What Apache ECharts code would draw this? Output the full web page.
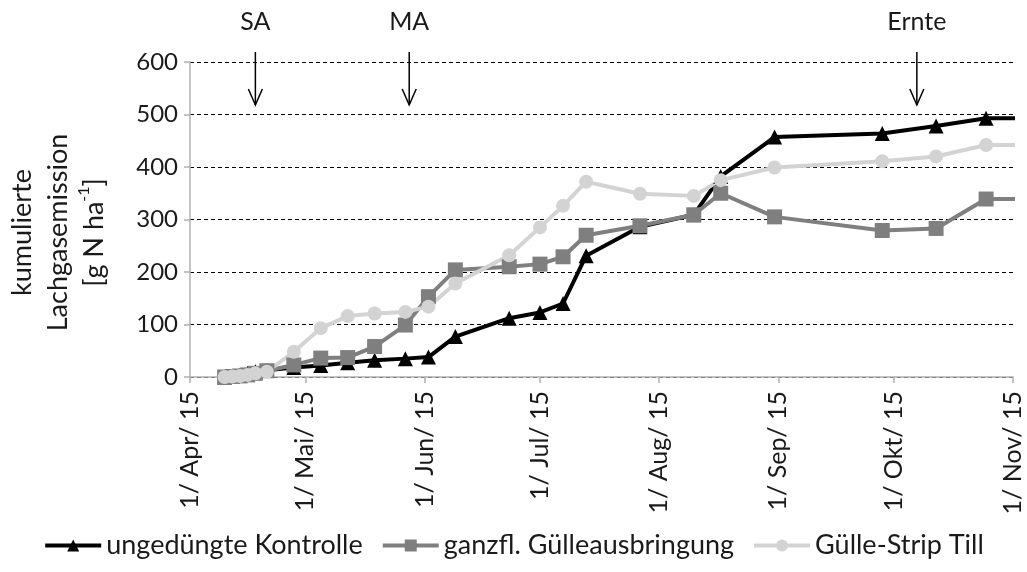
<!DOCTYPE html>
<html>
<head>
<meta charset="utf-8">
<script src="https://cdn.jsdelivr.net/npm/echarts@6/dist/echarts.min.js"></script>
<style>
  html, body { margin: 0; padding: 0; background: #fff; }
  #chart { width: 1027px; height: 572px; }
</style>
</head>
<body>
<div id="chart"></div>
<script>
// Sampling dates (shared by all three treatments)
const dates = ['2015-04-10','2015-04-12','2015-04-14','2015-04-16','2015-04-18','2015-04-21',
  '2015-04-28','2015-05-05','2015-05-12','2015-05-19','2015-05-27','2015-06-02','2015-06-09',
  '2015-06-23','2015-07-01','2015-07-07','2015-07-13','2015-07-27','2015-08-10','2015-08-17',
  '2015-08-31','2015-09-28','2015-10-12','2015-10-25','2015-11-08'];

// Cumulative N2O emission, g N ha-1
const kontrolle = [0,2,4,7,10,13,18,22,27,32,35,38,77,112,123,140,231,286,309,382,457,464,478,493,493];
const ganzfl    = [0,1,2,4,7,12,23,36,37,58,99,153,204,210,215,229,270,288,309,350,305,279,283,339,339];
const stripTill = [0,1,2,4,7,10,48,93,116,121,124,134,178,232,285,326,372,349,345,375,399,411,420,442,442];

const seriesNames = ['ungedüngte Kontrolle', 'ganzfl. Gülleausbringung', 'Gülle-Strip Till'];

// Axis ticks
const tickDates  = ['2015-04-01','2015-05-01','2015-06-01','2015-07-01','2015-08-01','2015-09-01','2015-10-01','2015-11-01'];
const tickLabels = ['1/ Apr/ 15','1/ Mai/ 15','1/ Jun/ 15','1/ Jul/ 15','1/ Aug/ 15','1/ Sep/ 15','1/ Okt/ 15','1/ Nov/ 15'];
const yTicks = [0, 100, 200, 300, 400, 500, 600];

// Field operations marked above the plot
const eventNames = ['SA', 'MA', 'Ernte'];
const eventDates = ['2015-04-18', '2015-05-28', '2015-10-07'];

// dates are placed on a linear day axis (days since 1 Jan 2015, UTC)
const DAY = 86400000;
function dayNum(s) {
  const p = s.split('-').map(Number);
  return (Date.UTC(p[0], p[1] - 1, p[2]) - Date.UTC(2015, 0, 1)) / DAY;
}
const tickDays = tickDates.map(dayNum);

const FONT = 'Lato';
const TXT = '#1a1a1a';

function pairs(vals) { return dates.map((d, i) => [dayNum(d), vals[i]]); }

const chart = echarts.init(document.getElementById('chart'), null, { renderer: 'canvas' });

const GRID = { left: 190, right: 14, top: 62, bottom: 195, outerBoundsMode: 'none', containLabel: false };

chart.setOption({
  animation: false,
  backgroundColor: '#fff',
  textStyle: { fontFamily: FONT },
  grid: GRID,
  legend: {
    bottom: 8,
    left: 'center',
    itemWidth: 56,
    itemHeight: 15,
    itemGap: 18,
    lineStyle: { width: 4 },
    textStyle: { fontFamily: FONT, fontSize: 27, color: TXT },
    data: seriesNames
  },
  xAxis: {
    type: 'value',
    min: tickDays[0],
    max: tickDays[tickDays.length - 1],
    splitLine: { show: false },
    axisLine: { lineStyle: { color: '#b0b0b0', width: 1.5 } },
    axisTick: { show: true, customValues: tickDays, length: 6, lineStyle: { color: '#b0b0b0', width: 1.5 } },
    axisLabel: {
      customValues: tickDays,
      rotate: 90,
      margin: 14,
      fontFamily: FONT,
      fontSize: 25,
      color: TXT,
      formatter: function (v) {
        const i = tickDays.indexOf(v);
        return i >= 0 ? tickLabels[i] : '';
      }
    }
  },
  yAxis: {
    type: 'value',
    min: yTicks[0],
    max: yTicks[yTicks.length - 1],
    interval: 100,
    name: 'kumulierte\nLachgasemission\n[g N ha{sup|-1}]',
    nameLocation: 'middle',
    nameRotate: 90,
    nameGap: 78,
    nameTextStyle: {
      fontFamily: FONT,
      fontSize: 27,
      color: TXT,
      lineHeight: 36,
      padding: [0, 26, 0, 0],
      rich: { sup: { fontFamily: FONT, fontSize: 16, verticalAlign: 'top', color: TXT, padding: [0, 0, 12, 0] } }
    },
    axisLine: { show: true, lineStyle: { color: '#b0b0b0', width: 1.5 } },
    axisTick: { show: true, length: 6, lineStyle: { color: '#b0b0b0', width: 1.5 } },
    axisLabel: { fontFamily: FONT, fontSize: 24, color: TXT, margin: 12 },
    splitLine: { show: true, lineStyle: { color: '#000', width: 1, type: [4, 3] } }
  },
  series: [
    {
      name: seriesNames[0], type: 'line', data: pairs(kontrolle),
      symbol: 'triangle', symbolSize: 15, clip: true,
      lineStyle: { color: '#000', width: 4 },
      itemStyle: { color: '#000' }
    },
    {
      name: seriesNames[1], type: 'line', data: pairs(ganzfl),
      symbol: 'rect', symbolSize: 15, clip: true,
      lineStyle: { color: '#7f7f7f', width: 4 },
      itemStyle: { color: '#7f7f7f' }
    },
    {
      name: seriesNames[2], type: 'line', data: pairs(stripTill),
      symbol: 'circle', symbolSize: 14, clip: true,
      lineStyle: { color: '#d3d3d3', width: 4 },
      itemStyle: { color: '#d3d3d3' }
    }
  ]
});

// Event arrows: x from the date on the day axis, drawn above the plot top
function drawEvents() {
  const elements = [];
  eventDates.forEach((d, i) => {
    const x = chart.convertToPixel({ xAxisIndex: 0 }, dayNum(d));
    const top = GRID.top - 10;
    const tip = GRID.top + 43;
    elements.push({
      type: 'text', x: x, y: 22,
      style: { text: eventNames[i], fontFamily: FONT, fontSize: 25, fill: TXT, align: 'center', verticalAlign: 'middle' }
    });
    elements.push({
      type: 'line', shape: { x1: x, y1: top, x2: x, y2: tip },
      style: { stroke: '#000', lineWidth: 1.5 }
    });
    elements.push({
      type: 'polyline', shape: { points: [[x - 7, tip - 16], [x, tip], [x + 7, tip - 16]] },
      style: { stroke: '#000', lineWidth: 1.5, fill: null }
    });
  });
  chart.setOption({ graphic: elements });
}
drawEvents();
</script>
</body>
</html>
